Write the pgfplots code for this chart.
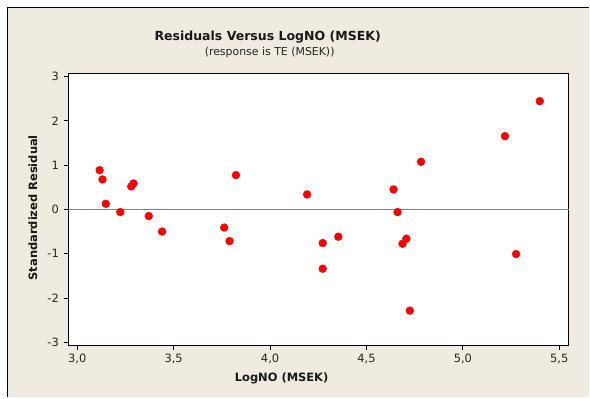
\documentclass[border=0pt]{standalone}
\usepackage{fontspec}
\setmainfont{DejaVu Sans}
\usepackage{pgfplots}
\pgfplotsset{compat=1.18}
\definecolor{bg}{RGB}{239,235,224}
\pgfplotstableread{
x y
3.116 0.887
3.131 0.677
3.148 0.128
3.223 -0.060
3.280 0.519
3.292 0.587
3.371 -0.150
3.440 -0.500
3.762 -0.410
3.790 -0.715
3.823 0.775
4.192 0.338
4.273 -0.760
4.273 -1.340
4.354 -0.617
4.640 0.451
4.661 -0.060
4.687 -0.775
4.707 -0.662
4.725 -2.287
4.783 1.077
5.218 1.655
5.276 -1.009
5.399 2.445
}\resid
\begin{document}
\begin{tikzpicture}[x=0.75pt,y=0.75pt]
\fill[white] (-68.3,-52) rectangle (521.7,346);
\fill[bg] (-60.8,-52) rectangle (521.7,338.5);
\draw[black, line width=1.2pt] (-60.8,-52) -- (-60.8,338.5) -- (521.7,338.5);
\begin{axis}[
  at={(0,0)}, anchor=south west,
  scale only axis, width=375.75pt, height=204.5pt,
  xmin=2.953, xmax=5.548, ymin=-3.075, ymax=3.077,
  axis background/.style={fill=white},
  axis line style={black, line width=0.8pt},
  xtick={3,3.5,4,4.5,5,5.5},
  xticklabels={{3,0},{3,5},{4,0},{4,5},{5,0},{5,5}},
  ytick={-3,-2,-1,0,1,2,3},
  yticklabels={-3,-2,-1,0,1,2,3},
  tick align=outside, tick pos=left,
  major tick length=3.5pt,
  tick style={black, line width=0.6pt},
  tick label style={font=\fontsize{8.6}{10}\selectfont, text=black!85},
  xticklabel style={yshift=0.5pt},
  clip=false,
]
\addplot[gray, line width=0.9pt] coordinates {(2.953,0) (5.548,0)};
\addplot[only marks, mark=*, mark size=2.9pt, color=red, mark options={fill=red, draw=red}] table[x=x, y=y] {\resid};
\end{axis}
\node[font=\bfseries\fontsize{9.4}{11}\selectfont, text=black!90] at (199.7,308.5) {Residuals Versus LogNO (MSEK)};
\node[font=\fontsize{8.2}{10}\selectfont, text=black!85] at (201.7,293) {(response is TE (MSEK))};
\node[font=\bfseries\fontsize{8.6}{10}\selectfont, text=black!90] at (213.7,-33) {LogNO (MSEK)};
\node[font=\bfseries\fontsize{8.6}{10}\selectfont, text=black!90, rotate=90] at (-35.3,138) {Standardized Residual};
\end{tikzpicture}
\end{document}
